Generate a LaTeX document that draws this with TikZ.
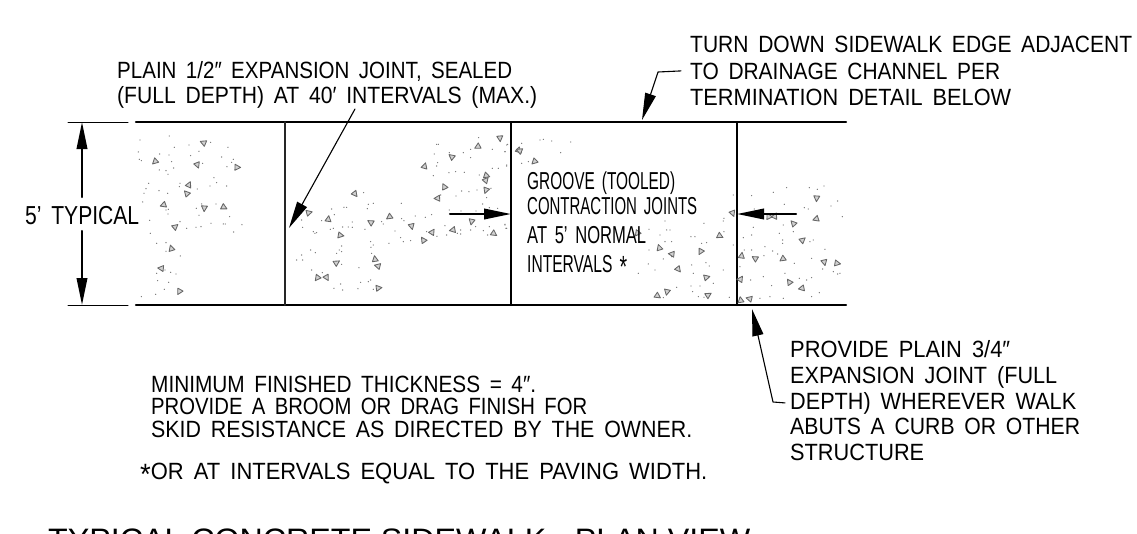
\documentclass[tikz,border=0pt]{standalone}
\usepackage{graphicx}
\usepackage{fontspec}
\setmainfont{Liberation Sans}
\usepackage{tikz}
\usetikzlibrary{arrows.meta}
\newcommand{\fitline}[2]{\resizebox{#1pt}{\height}{\spaceskip=.46em\relax #2}}
\newcommand{\ftick}{\char"2032\relax}
\newcommand{\inchtick}{\char"2033\relax}
\newcommand{\midstar}{\raisebox{-.22em}{\scalebox{1.25}{*}}}
\tikzset{
  note/.style={anchor=base west,inner sep=0pt,font=\fontsize{23.5}{26}\selectfont},
  grooved/.style={anchor=base west,inner sep=0pt,font=\fontsize{24.5}{26}\selectfont},
  leader/.style={line width=1.1pt,-{Triangle[length=27pt,width=11pt]}},
  heavy/.style={line width=2.1pt,-{Triangle[length=27pt,width=10.5pt]}},
  speck/.style={fill=black!55},
  aggr/.style={draw=black!60,line width=.85pt,fill=black!18}
}
\begin{document}
\begin{tikzpicture}[line cap=round,line join=round,x=1pt,y=-1pt]
\clip (0,0) rectangle (1137,533);
\draw[line width=2.2pt] (136,122)-- (846,122);
\draw[line width=2.2pt] (136,305)-- (846,305);
\draw[line width=2pt,black!85] (285,122)-- (285,305);
\draw[line width=2pt] (511,122)-- (511,305);
\draw[line width=2pt] (737,122)-- (737,305);
\draw[line width=1pt] (68,122)-- (128,122);
\draw[line width=1pt] (68,305)-- (128,305);
\begin{scope}[shift={(120,110)},scale=0.3333]
\foreach \x/\y in {60/90,148/78,163/112,207/105,272/97,324/112,55/126,58/148,64/152,119/132,147/135,212/137,237/124,305/141,340/148,335/157,321/170,155/155,161/174,118/180,138/182,144/193,248/160,282/203,290/218,270/228,320/228,180/220,178/230,232/237,86/220,78/236,72/250,117/242,143/250,68/276,245/282,288/282,145/298,138/300,144/312,229/295,237/316,329/320,180/335,89/331,200/355,228/352,243/350,273/340,310/342,316/342,366/344,341/366,91/370,110/400,138/398,138/424,181/438,135/480,152/487,168/492,110/490,113/512,146/517,133/538,107/553,64/560,731/248,950/103,955/103,1076/83,1163/103,943/132,988/128,990/140,1030/128,1052/118,1117/118,1155/125,1052/143,953/158,950/168,1117/175,1135/175,1160/168,940/197,987/188,1007/185,1033/187,1078/195,1025/243,1047/245,1071/240,1113/235,1008/258,1100/263,962/255,1088/282,844/280,745/283,760/280,742/296,672/292,680/292,635/297,988/300,1023/303,1068/303,1108/293,1133/295,643/314,605/332,545/330,886/318,916/322,935/314,845/326,852/332,785/335,790/342,548/352,640/355,631/358,668/351,685/351,697/336,697/352,825/363,735/358,580/365,590/368,585/370,975/347,980/375,1012/370,1022/360,1022/372,1052/360,1067/350,1090/362,1103/375,1108/350,1155/343,1158/355,920/365,951/379,842/383,850/395,872/392,807/400,752/395,760/405,753/412,665/408,658/420,650/430,665/425,755/430,530/450,545/435,548/450,572/420,586/428,665/463,717/473,575/480,607/488,662/522,642/535,668/540,722/517,745/515,752/510,714/536,760/538}
  \fill[speck] (\x,\y) circle (2);
\foreach \x/\y [count=\i] in {250/98,105/155,232/165,352/172,207/224,200/250,130/285,253/295,312/292,166/350,154/415,123/475,178/545,705/252,567/308,625/327,752/337,808/321,875/349,662/376,937/366,910/390,998/360,1055/335,1122/371,650/458,765/447,773/468,592/504,620/503,776/534,914/168,995/140,1073/110,1140/85,1100/197,1098/210,973/230,952/265,1098/241,1197/122}
  \draw[aggr,shift={(\x,\y)},rotate=\i*67] (0,-10)-- (9,7)-- (-9,7)-- cycle;
\end{scope}
\begin{scope}[shift={(500,110)},scale=0.3333]
\foreach \x/\y in {65/100,120/90,130/88,155/93,212/96,182/128,65/160,85/155,20/105,15/125,20/165,15/345,20/355,700/255,755/257,820/247,860/233,928/233,952/238,972/228,1013/273,993/288,913/293,925/297,763/297,853/283,1027/320,850/345,760/352,838/370,880/365,848/390,848/400,930/395,940/390,730/383,755/375,975/418,795/410,818/423,833/432,792/437,755/420,733/420,700/405,935/445,883/460,968/477,1000/485,1013/492,1020/490,855/490,790/500,752/510,815/527,898/505,920/510,935/503,958/548,935/560,850/565,810/560,780/565,720/470,495/333,510/360,480/375,495/395,500/360,447/358,447/420,480/413,515/395,515/440,573/380,585/380,620/398,605/400,612/340,670/333,672/365,445/462,465/480,490/447,530/475,580/490,575/465,618/458,628/468,600/528,640/520,670/480,415/490,530/532,573/528,578/545,595/560,612/562,688/562,490/563,672/325}
  \fill[speck] (\x,\y) circle (2);
\foreach \x/\y [count=\i] in {58/122,103/155,698/310,808/320,825/318,880/340,948/327,950/265,660/378,908/390,478/413,515/432,602/425,535/478,620/502,725/437,765/445,848/447,973/457,1012/460,722/507,868/516,905/535,501/546,473/558,625/555,722/570,748/566,412/370}
  \draw[aggr,shift={(\x,\y)},rotate=\i*67] (0,-10)-- (9,7)-- (-9,7)-- cycle;
\end{scope}
\node (turndown) [note] at (690,52) {\fitline{442}{TURN DOWN SIDEWALK EDGE ADJACENT}};
\node (drainage) [note] at (690,79) {\fitline{310}{TO DRAINAGE CHANNEL PER}};
\node (termination) [note] at (690,105) {\fitline{321}{TERMINATION DETAIL BELOW}};
\node (plainhalf) [note] at (117,78) {\fitline{395}{PLAIN 1/2\inchtick\ EXPANSION JOINT, SEALED}};
\node (fulldepth) [note] at (117,103) {\fitline{420}{(FULL DEPTH) AT 40\ftick\ INTERVALS (MAX.)}};
\node (typical) [note,font=\fontsize{26}{28}\selectfont] at (25,224) {\fitline{114}{5' TYPICAL}};
\node (groove) [grooved] at (527,189) {\fitline{148}{GROOVE (TOOLED)}};
\node (contraction) [grooved] at (527,214) {\fitline{170}{CONTRACTION JOINTS}};
\node (normal) [grooved] at (527,243) {\fitline{119}{AT 5' NORMAL}};
\node (intervals) [grooved] at (527,272) {\fitline{100}{INTERVALS \midstar}};
\node (provide) [note] at (790,357) {\fitline{220}{PROVIDE PLAIN 3/4\inchtick}};
\node (expansion) [note] at (790,383) {\fitline{267}{EXPANSION JOINT (FULL}};
\node (depth) [note] at (790,409) {\fitline{286}{DEPTH) WHEREVER WALK}};
\node (abuts) [note] at (790,434) {\fitline{290}{ABUTS A CURB OR OTHER}};
\node (structure) [note] at (790,460) {\fitline{134}{STRUCTURE}};
\node (minimum) [note] at (151,392) {\fitline{385}{MINIMUM FINISHED THICKNESS = 4\inchtick.}};
\node (broom) [note] at (151,414) {\fitline{436}{PROVIDE A BROOM OR DRAG FINISH FOR}};
\node (skid) [note] at (151,437) {\fitline{541}{SKID RESISTANCE AS DIRECTED BY THE OWNER.}};
\node (paving) [note] at (140,479) {\fitline{567}{\midstar OR AT INTERVALS EQUAL TO THE PAVING WIDTH.}};
\node (title) [note,font=\fontsize{31}{34}\selectfont] at (48,550) {\fitline{702}{\spaceskip=0pt TYPICAL CONCRETE SIDEWALK - PLAN VIEW}};
\coordinate (drainelbow) at (658,72);
\coordinate (draintip) at (642,120);
\coordinate (walkelbow) at (773,402);
\coordinate (walktip) at (752,309);
\coordinate (jointstart) at (355,109);
\coordinate (jointtip) at (289,228);
\draw[leader] ([xshift=-9pt]drainage.west)-- (drainelbow)-- (draintip);
\draw[leader] ([xshift=-5pt]depth.west)-- (walkelbow)-- (walktip);
\draw[leader] (jointstart)-- (jointtip);
\coordinate (dimtop) at (82,122);
\coordinate (dimbottom) at (82,305);
\coordinate (dimup) at (82,197);
\coordinate (dimdown) at (82,231);
\draw[heavy] (dimup)-- (dimtop);
\draw[heavy] (dimdown)-- (dimbottom);
\coordinate (pushright) at (450,214);
\coordinate (pushrighttip) at (511,214);
\coordinate (pushleft) at (796,214);
\coordinate (pushlefttip) at (737,214);
\draw[heavy] (pushright)-- (pushrighttip);
\draw[heavy] (pushleft)-- (pushlefttip);
\end{tikzpicture}
\end{document}
